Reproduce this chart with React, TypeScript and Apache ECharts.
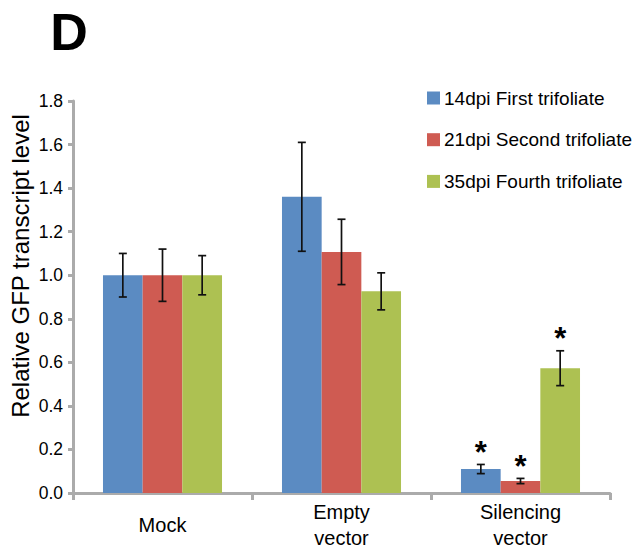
import React, { useEffect, useRef } from "react";
import * as echarts from "echarts";

const categories = ["Mock", "Empty\nvector", "Silencing\nvector"];
const seriesNames = ["14dpi First trifoliate", "21dpi Second trifoliate", "35dpi Fourth trifoliate"];
const colors = ["#5B8BC2", "#CF5B52", "#ADC152"];
const values14 = [1.0, 1.36, 0.11];
const values21 = [1.0, 1.107, 0.055];
const values35 = [1.0, 0.926, 0.573];
const errors14 = [0.1, 0.25, 0.021];
const errors21 = [0.12, 0.15, 0.012];
const errors35 = [0.09, 0.085, 0.08];
const stars14 = [false, false, true];
const stars21 = [false, false, true];
const stars35 = [false, false, true];
const yTicks = [0, 0.2, 0.4, 0.6, 0.8, 1.0, 1.2, 1.4, 1.6, 1.8];

const FONT = "'Liberation Sans', Arial, sans-serif";
const CAT_GAP = 0.335;

export default function App() {
  const ref = useRef<HTMLDivElement>(null);
  useEffect(() => {
    document.body.style.margin = "0";
    if (!ref.current) return;
    const chart = echarts.init(ref.current, undefined, { renderer: "svg" });
    const allValues = [values14, values21, values35];
    const allErrors = [errors14, errors21, errors35];
    const allStars = [stars14, stars21, stars35];

    const barSeries = allValues.map((vals, i) => ({
      name: seriesNames[i],
      type: "bar",
      data: vals,
      itemStyle: { color: colors[i] },
      barGap: "0%",
      barCategoryGap: "33.5%",
      z: 2,
    }));

    const errSeries = allValues.map((vals, i) => ({
      type: "custom",
      name: "err" + i,
      z: 5,
      silent: true,
      data: vals.map((v, j) => [j, v, allErrors[i][j], allStars[i][j] ? 1 : 0]),
      encode: { x: 0, y: 1 },
      renderItem: (params: any, api: any) => {
        const idx = api.value(0);
        const v = api.value(1);
        const e = api.value(2);
        const star = api.value(3);
        const band = api.size([1, 0])[0];
        const barW = (band * (1 - CAT_GAP)) / 3;
        const center = api.coord([idx, v]);
        const x = center[0] + (i - 1) * barW;
        const hi = api.coord([idx, v + e])[1];
        const lo = api.coord([idx, v - e])[1];
        const cap = 4;
        const st = { stroke: "#111", lineWidth: 1.7 };
        const children: any[] = [
          { type: "line", shape: { x1: x, y1: hi, x2: x, y2: lo }, style: st },
          { type: "line", shape: { x1: x - cap, y1: hi, x2: x + cap, y2: hi }, style: st },
          { type: "line", shape: { x1: x - cap, y1: lo, x2: x + cap, y2: lo }, style: st },
        ];
        if (star) {
          children.push({
            type: "text",
            style: {
              text: "*",
              x: x,
              y: hi - 12,
              align: "center",
              verticalAlign: "middle",
              fontSize: 31,
              fontWeight: "bold",
              fontFamily: FONT,
              fill: "#000",
            },
          });
        }
        return { type: "group", children };
      },
    }));

    chart.setOption({
      animation: false,
      textStyle: { fontFamily: FONT },
      grid: { left: 73, right: 28, top: 101, bottom: 59, containLabel: false },
      legend: {
        data: seriesNames,
        orient: "vertical",
        left: 422,
        top: 83,
        itemWidth: 13,
        itemHeight: 13,
        itemGap: 21.7,
        icon: "rect",
        textStyle: { fontSize: 19, lineHeight: 20, color: "#000", fontFamily: FONT, padding: [0, 0, 0, -1] },
      },
      graphic: [
        {
          type: "text",
          x: 69,
          y: 32,
          style: {
            text: "D",
            align: "center",
            verticalAlign: "middle",
            fontSize: 52,
            fontWeight: "bold",
            fill: "#000",
            fontFamily: FONT,
          },
        },
        {
          type: "text",
          x: 20,
          y: 266,
          rotation: Math.PI / 2,
          style: {
            text: "Relative GFP transcript level",
            align: "center",
            verticalAlign: "middle",
            fontSize: 24,
            fill: "#000",
            fontFamily: FONT,
          },
        },
      ],
      xAxis: {
        type: "category",
        data: categories,
        axisLine: { lineStyle: { color: "#ABABAB", width: 3 } },
        axisTick: { show: true, alignWithLabel: false, length: 7, lineStyle: { color: "#ABABAB", width: 3 } },
        axisLabel: {
          fontSize: 20,
          color: "#000",
          fontFamily: FONT,
          margin: 32,
          lineHeight: 26,
          verticalAlign: "middle",
        },
      },
      yAxis: {
        type: "value",
        min: 0,
        max: 1.8,
        interval: 0.2,
        axisLine: { show: true, lineStyle: { color: "#ABABAB", width: 3 } },
        axisTick: { show: true, length: 5, lineStyle: { color: "#ABABAB", width: 3 } },
        splitLine: { show: false },
        axisLabel: {
          fontSize: 17.5,
          color: "#000",
          fontFamily: FONT,
          margin: 10,
          formatter: (v: number) => {
            const t = yTicks.find((k) => Math.abs(k - v) < 1e-6);
            return (t !== undefined ? t : v).toFixed(1);
          },
        },
      },
      series: [...barSeries, ...errSeries],
    });
    return () => chart.dispose();
  }, []);
  return <div ref={ref} style={{ width: 638, height: 552 }} />;
}
